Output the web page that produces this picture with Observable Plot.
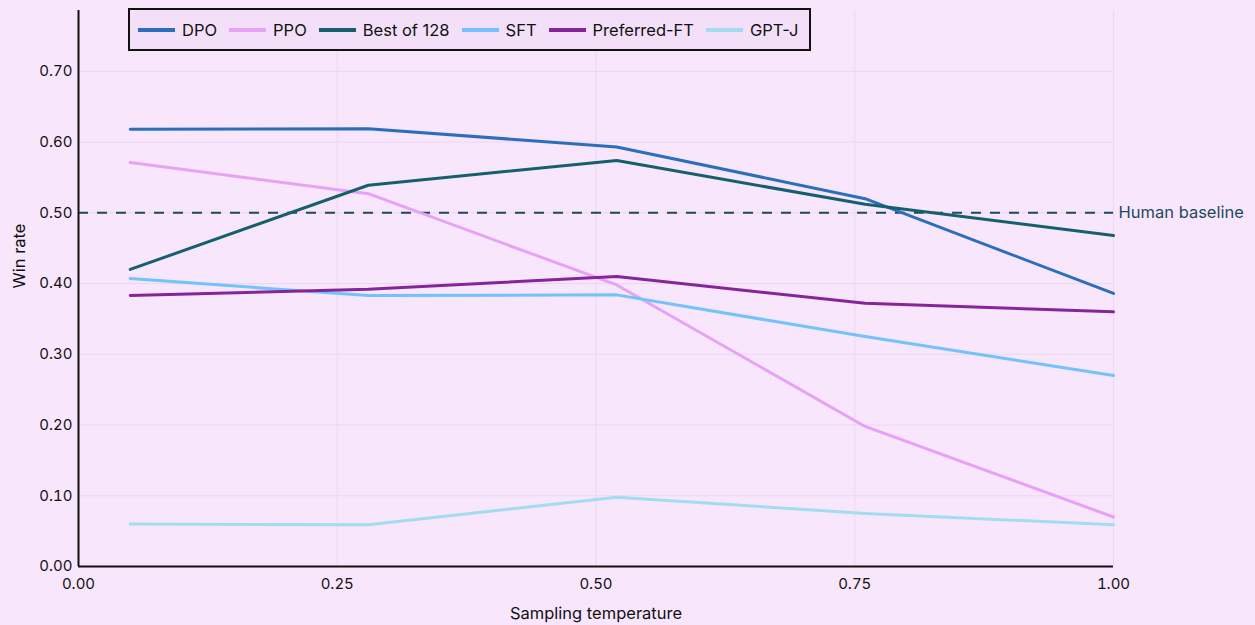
<!DOCTYPE html>
<html><head><meta charset="utf-8">
<script src="https://cdn.jsdelivr.net/npm/d3@7"></script>
<script src="https://cdn.jsdelivr.net/npm/@observablehq/plot@0.6"></script>
<style>
html,body{margin:0;padding:0;background:#f8e6fd;}
#wrap{position:relative;width:1255px;height:625px;font-family:Inter,"Open Sans",sans-serif;}
#legend{position:absolute;left:128px;top:8px;width:683px;height:43px;border:2px solid #111;background:#f3e0f8;display:flex;align-items:center;box-sizing:border-box;padding-left:8px;font-size:16.5px;color:#111;white-space:nowrap;}
#legend .it{display:flex;align-items:center;margin-right:12px;flex-shrink:0;}
#legend .sw{width:37px;height:4px;margin-right:7px;flex-shrink:0;}
</style></head>
<body><div id="wrap"><div id="legend"></div></div>
<script>
const temps = [0.05, 0.28, 0.52, 0.76, 1.0];
const seriesNames = ["DPO", "PPO", "Best of 128", "SFT", "Preferred-FT", "GPT-J"];
const seriesColors = ["#2b6fbc", "#e7a2f5", "#15606c", "#72c2fb", "#86259a", "#a3dcf1"];
const dpo = [0.618, 0.619, 0.593, 0.520, 0.386];
const ppo = [0.571, 0.527, 0.398, 0.198, 0.070];
const best128 = [0.420, 0.539, 0.574, 0.512, 0.468];
const sft = [0.407, 0.383, 0.384, 0.325, 0.270];
const preferredFT = [0.383, 0.392, 0.410, 0.372, 0.360];
const gptj = [0.060, 0.059, 0.098, 0.075, 0.059];
const humanBaseline = 0.50;
const xTicks = [0, 0.25, 0.5, 0.75, 1.0];
const yTicks = [0, 0.1, 0.2, 0.3, 0.4, 0.5, 0.6, 0.7];

const allValues = [dpo, ppo, best128, sft, preferredFT, gptj];
const data = [];
seriesNames.forEach((name, i) => temps.forEach((t, j) => data.push({series: name, t, v: allValues[i][j]})));

const chart = Plot.plot({
  width: 1255, height: 625,
  marginLeft: 78, marginRight: 142, marginTop: 10, marginBottom: 59,
  style: {background: "transparent", fontFamily: "Inter, 'Open Sans', sans-serif", fontSize: "15px", color: "#111"},
  x: {domain: [0, 1], ticks: xTicks, tickFormat: d3.format(".2f"), tickSize: 0, tickPadding: 12, label: null},
  y: {domain: [0, 0.786], ticks: yTicks, tickFormat: d3.format(".2f"), tickSize: 0, tickPadding: 6, label: null},
  color: {domain: seriesNames, range: seriesColors},
  marks: [
    Plot.gridY(yTicks, {stroke: "#ecd6f2", strokeOpacity: 1, strokeWidth: 1}),
    Plot.gridX(xTicks.slice(1), {stroke: "#ecd6f2", strokeOpacity: 1, strokeWidth: 1}),
    Plot.ruleY([humanBaseline], {stroke: "#1d4a5a", strokeWidth: 2, strokeDasharray: "10,9"}),
    Plot.text([humanBaseline], {y: d => d, x: 1, text: () => "Human baseline", textAnchor: "start", dx: 5, fill: "#1d4a5a", fontSize: 16.5}),
    Plot.line(data, {x: "t", y: "v", z: "series", stroke: "series", strokeWidth: 3}),
    Plot.ruleX([0], {stroke: "#111", strokeWidth: 2}),
    Plot.ruleY([0], {stroke: "#111", strokeWidth: 2}),
    Plot.text(["Sampling temperature"], {frameAnchor: "bottom", dy: 52, fontSize: 16.5, fill: "#111"}),
    Plot.text(["Win rate"], {frameAnchor: "left", dx: -59, rotate: -90, fontSize: 16.5, fill: "#111"})
  ]
});
document.getElementById("wrap").appendChild(chart);
chart.style.position = "absolute"; chart.style.left = "0"; chart.style.top = "0";
const leg = document.getElementById("legend");
seriesNames.forEach((n, i) => {
  const it = document.createElement("div"); it.className = "it";
  const sw = document.createElement("div"); sw.className = "sw"; sw.style.background = seriesColors[i];
  const tx = document.createElement("span"); tx.textContent = n;
  it.appendChild(sw); it.appendChild(tx); leg.appendChild(it);
});
document.getElementById("wrap").appendChild(leg);
</script></body></html>
